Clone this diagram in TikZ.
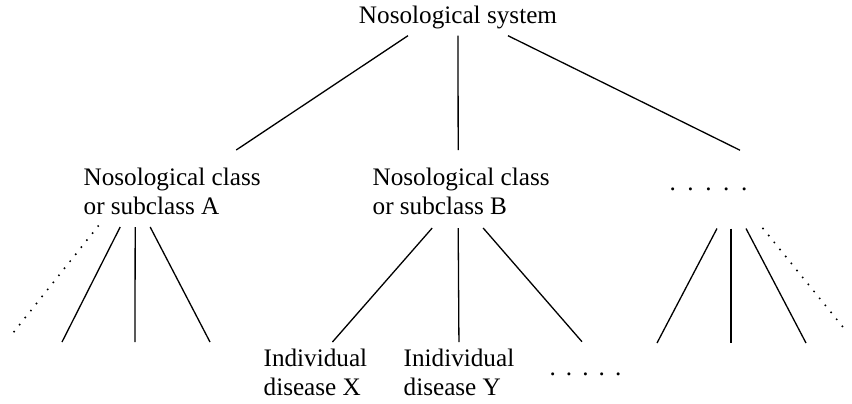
\documentclass[tikz,border=0pt]{standalone}
\usepackage{fontspec}
\setmainfont{Liberation Serif}
\newcommand{\fivedots}[1]{.\hspace{#1}.\hspace{#1}.\hspace{#1}.\hspace{#1}.}
\begin{document}
\begin{tikzpicture}[x=0.5pt, y=-0.5pt, line width=0.65pt,
    txt/.style={font=\fontsize{12.6}{14.5}\selectfont, inner xsep=0pt, align=left},
    dotline/.style={dash pattern=on 0pt off 4.5pt, line cap=round, line width=1.1pt}]
  \useasboundingbox (0,0) rectangle (852,403);
  % top of the tree
  \node[txt, inner ysep=3.3pt, anchor=base] (sys) at (458,23) {Nosological system};
  % classes
  \node[txt, inner ysep=8.5pt, anchor=north west] (clsA) at (83,150) {Nosological class\\or subclass A};
  \node[txt, inner ysep=8.5pt, anchor=north west] (clsB) at (372,150) {Nosological class\\or subclass B};
  \node[txt, inner ysep=18.5pt, anchor=base] (moreCls) at (708.5,190.5) {\fivedots{.46em}};
  % diseases
  \node[txt, inner ysep=3pt, anchor=north west] (disX) at (263,342) {Individual\\disease X};
  \node[txt, inner ysep=3pt, anchor=north west] (disY) at (403,342) {Inidividual\\disease Y};
  \node[txt, inner ysep=15pt, anchor=base] (moreDis) at (585.5,375) {\fivedots{.40em}};

  \draw ([xshift=-25pt]sys.south) -- ([xshift=32pt]clsA.north);
  \draw (sys.south) -- ([xshift=-1.5pt]clsB.north);
  \draw ([xshift=25pt]sys.south) -- ([xshift=15.75pt]moreCls.north);

  \draw ([xshift=-14.5pt,yshift=2pt]clsB.south) -- ([xshift=8.5pt]disX.north);
  \draw ([xshift=-1.5pt,yshift=2pt]clsB.south) -- (disY.north);
  \draw ([xshift=11pt,yshift=2pt]clsB.south) -- ([xshift=-1.75pt]moreDis.north);

  % open legs
  \foreach \dx/\ex [count=\i] in {-26/62, -18.5/135, -11/210} {
    \coordinate (legA\i) at (\ex,342);
    \draw ([xshift=\dx pt,yshift=2.5pt]clsA.south) -- (legA\i);
  }
  \coordinate (dotA) at (9,338);
  \draw[dotline] ([xshift=-37pt,yshift=3pt]clsA.south) -- (dotA);

  \foreach \dx/\ex [count=\i] in {4.25/657, 11.25/731, 18.75/806} {
    \coordinate (legR\i) at (\ex,343);
    \draw ([xshift=\dx pt]moreCls.south) -- (legR\i);
  }
  \coordinate (dotR) at (847,332);
  \draw[dotline] ([xshift=27.25pt]moreCls.south) -- (dotR);
\end{tikzpicture}
\end{document}
